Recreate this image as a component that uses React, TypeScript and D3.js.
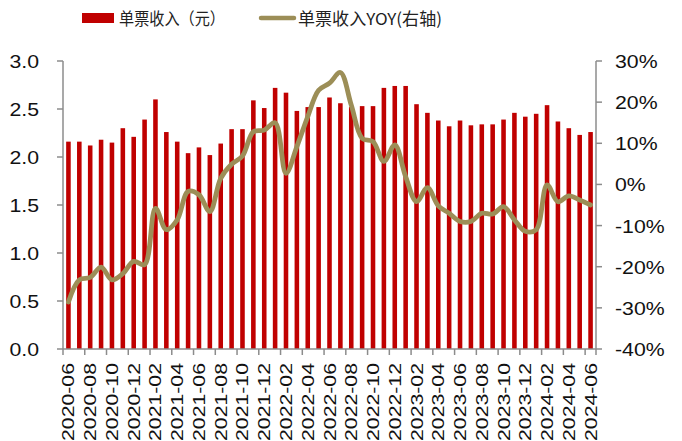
import React from "react";
import * as d3 from "d3";

const months: string[] = [];
{
  const start = new Date(2020, 5, 1);
  for (let i = 0; i < 49; i++) {
    const d = new Date(start.getFullYear(), start.getMonth() + i, 1);
    months.push(`${d.getFullYear()}-${String(d.getMonth() + 1).padStart(2, "0")}`);
  }
}

const revenue: number[] = [
  2.16, 2.16, 2.12, 2.18, 2.15, 2.3, 2.21, 2.39, 2.6, 2.26, 2.16, 2.04, 2.1, 2.02, 2.14, 2.29,
  2.29, 2.59, 2.51, 2.72, 2.67, 2.48, 2.52, 2.52, 2.62, 2.56, 2.52, 2.53, 2.53, 2.72, 2.74, 2.74,
  2.55, 2.46, 2.38, 2.32, 2.38, 2.33, 2.34, 2.34, 2.39, 2.46, 2.42, 2.45, 2.54, 2.37, 2.3, 2.23, 2.26,
];

const yoy: number[] = [
  -28.6, -23.2, -22.6, -20.1, -23.2, -21.7, -18.7, -19.5, -5.8, -11.0, -8.6, -1.7, -2.5, -6.6, 1.5, 4.9,
  6.9, 12.8, 13.2, 15.0, 2.7, 9.2, 16.5, 22.9, 24.6, 27.2, 19.3, 11.2, 10.4, 5.6, 9.6, 1.9,
  -4.2, -0.8, -5.2, -7.0, -9.0, -9.0, -7.0, -7.2, -5.4, -8.6, -11.4, -11.0, -0.1, -4.2, -2.8, -3.8, -5.0,
];

const leftTicks: number[] = [0, 0.5, 1.0, 1.5, 2.0, 2.5, 3.0];
const rightTicks: number[] = [-40, -30, -20, -10, 0, 10, 20, 30];

const barLabel = "单票收入（元）";
const lineLabel = "单票收入YOY(右轴)";

export default function App() {
  const W = 682, H = 441;
  const x0 = 63, x1 = 596, yTop = 61, yBot = 349;
  const x = d3.scaleBand<string>().domain(months).range([x0, x1]).padding(0);
  const yL = d3.scaleLinear().domain([0, 3]).range([yBot, yTop]);
  const yR = d3.scaleLinear().domain([-40, 30]).range([yBot, yTop]);
  const bw = x.bandwidth();
  const barW = bw * 0.42;
  const cx = (m: string) => (x(m) as number) + bw / 2;
  const line = d3
    .line<number>()
    .x((_, i) => cx(months[i]))
    .y((v) => yR(v))
    .curve(d3.curveCatmullRom.alpha(0.5));
  const axisColor = "#8c8c8c";
  const font = "'Liberation Sans', Arial, sans-serif";
  const cjk = "'Noto Sans CJK SC', sans-serif";

  return (
    <svg width={W} height={H} style={{ position: "absolute", left: 0, top: 0, background: "#fff" }}>
      {/* legend */}
      <rect x={82} y={13} width={32} height={10} fill="#C00000" />
      <text x={119} y={24.5} fontFamily={cjk} fontSize={16.5} fill="#222" textLength={106} lengthAdjust="spacingAndGlyphs">{barLabel}</text>
      <line x1={261} x2={294} y1={18} y2={18} stroke="#9C8E57" strokeWidth={4.5} strokeLinecap="round" />
      <text x={298} y={24.5} fontFamily={cjk} fontSize={16.5} fill="#222" textLength={144} lengthAdjust="spacingAndGlyphs">{lineLabel}</text>

      {/* bars */}
      {months.map((m, i) => (
        <rect key={m} x={cx(m) - barW / 2} y={yL(revenue[i])} width={barW} height={yBot - yL(revenue[i])} fill="#C00000" />
      ))}

      {/* line */}
      <path d={line(yoy) || ""} fill="none" stroke="#9C8E57" strokeWidth={4.8} strokeLinejoin="round" strokeLinecap="round" />

      {/* left axis */}
      <line x1={x0} x2={x0} y1={yTop} y2={yBot} stroke={axisColor} strokeWidth={1.5} />
      {leftTicks.map((t) => (
        <g key={"l" + t}>
          <line x1={x0 - 6} x2={x0} y1={yL(t)} y2={yL(t)} stroke={axisColor} strokeWidth={1.5} />
          <g transform={`translate(39,${yL(t) + 7}) scale(1.12,1)`}>
            <text textAnchor="end" fontFamily={font} fontSize={19} fill="#111">{t.toFixed(1)}</text>
          </g>
        </g>
      ))}

      {/* right axis */}
      <line x1={x1} x2={x1} y1={yTop} y2={yBot} stroke={axisColor} strokeWidth={1.5} />
      {rightTicks.map((t) => (
        <g key={"r" + t}>
          <line x1={x1} x2={x1 + 6} y1={yR(t)} y2={yR(t)} stroke={axisColor} strokeWidth={1.5} />
          <g transform={`translate(615,${yR(t) + 7}) scale(1.12,1)`}>
            <text textAnchor="start" fontFamily={font} fontSize={19} fill="#111">{`${t}%`}</text>
          </g>
        </g>
      ))}

      {/* bottom axis */}
      <line x1={x0} x2={x1} y1={yBot} y2={yBot} stroke={axisColor} strokeWidth={1.5} />
      {months.map((m, i) =>
        i % 2 === 0 ? (
          <g key={"t" + m}>
            <line x1={x(m) as number} x2={x(m) as number} y1={yBot} y2={yBot + 6} stroke={axisColor} strokeWidth={1.5} />
            <text
              transform={`translate(${cx(m) + 6},${363}) rotate(-90)`}
              textAnchor="end"
              fontFamily={font}
              fontSize={17}
              textLength={78}
              lengthAdjust="spacingAndGlyphs"
              fill="#111"
            >
              {m}
            </text>
          </g>
        ) : null
      )}
      <line x1={x1} x2={x1} y1={yBot} y2={yBot + 6} stroke={axisColor} strokeWidth={1.5} />
    </svg>
  );
}
